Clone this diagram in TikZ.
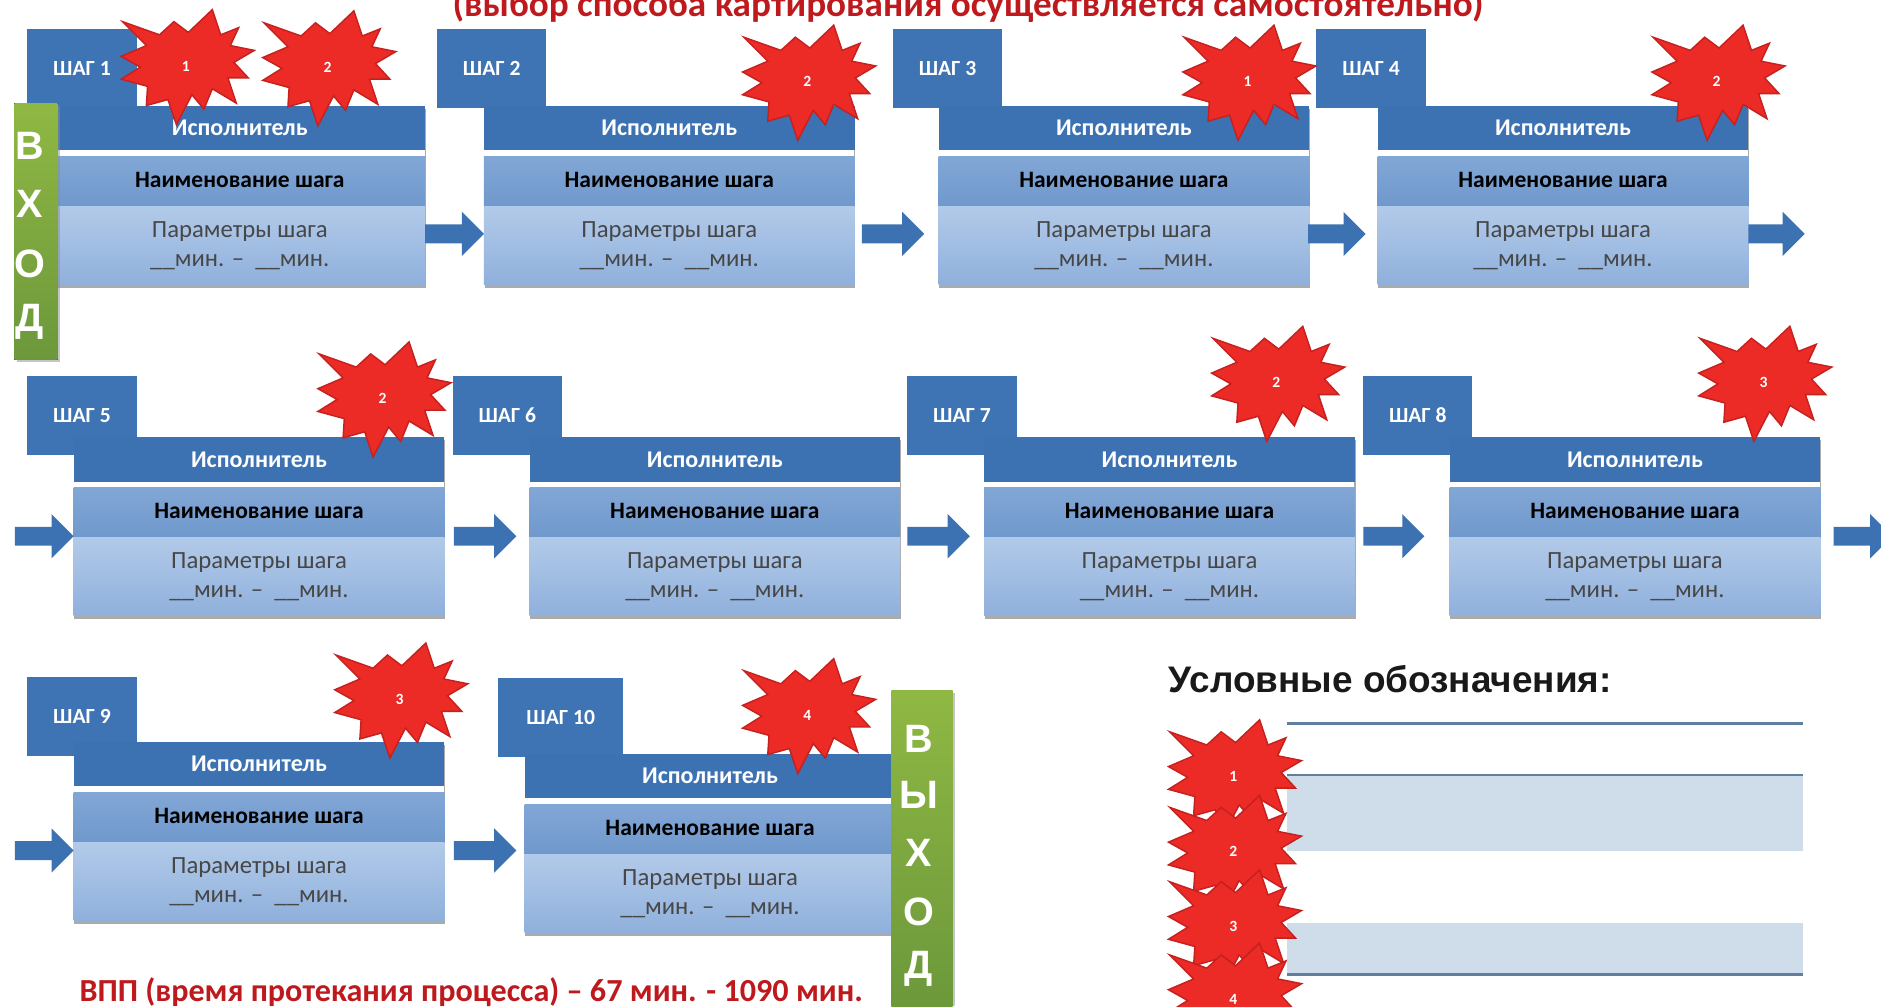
\documentclass[tikz,border=0pt]{standalone}
\usepackage{fontspec}
\setmainfont{Carlito}
\newfontfamily\legendfont{Liberation Sans}
\usetikzlibrary{shapes.arrows}
\definecolor{tabblue}{HTML}{3F74B4}
\definecolor{headblue}{HTML}{3C72B2}
\definecolor{nametop}{HTML}{82A7D6}
\definecolor{namebot}{HTML}{6F98CC}
\definecolor{partop}{HTML}{B2CAE9}
\definecolor{parbot}{HTML}{8FB0DC}
\definecolor{greentop}{HTML}{8FB843}
\definecolor{greenbot}{HTML}{6C983B}
\definecolor{redtext}{HTML}{BE1A1E}
\definecolor{burstred}{HTML}{EC2A26}
\definecolor{burstedge}{HTML}{C4211F}
\definecolor{legendband}{HTML}{CFDDEB}
\definecolor{legendline}{HTML}{5F7F9E}
\tikzset{
  tabbox/.style={fill=tabblue,draw=none,inner sep=0,anchor=north west,minimum height=33pt,text=white,font=\bfseries\fontsize{9}{11}\selectfont},
  bandbox/.style={draw=none,inner sep=0,anchor=north west,minimum width=154.5pt,align=center},
  headband/.style={bandbox,fill=headblue,minimum height=18.5pt,text=white,font=\bfseries\fontsize{10}{12}\selectfont},
  nameband/.style={bandbox,top color=nametop,bottom color=namebot,minimum height=21pt,text=black,font=\bfseries\fontsize{9.8}{12}\selectfont},
  paramband/.style={bandbox,top color=partop,bottom color=parbot,minimum height=32.5pt,text=black!72,font=\fontsize{10.3}{12}\selectfont},
  shadowbox/.style={fill=black!55,opacity=.6,draw=none},
  blockarrow/.style={single arrow,fill=headblue,draw=none,inner sep=0,minimum width=18pt,text height=7.5pt,text depth=0pt,text width=0pt,
    single arrow head extend=5.25pt,single arrow tip angle=90,single arrow head indent=0pt,anchor=tail},
  greenbar/.style={top color=greentop,bottom color=greenbot,draw=none},
  barshadow/.style={fill=black!45,opacity=.5,draw=none},
  barletter/.style={text=white,font=\legendfont\bfseries\fontsize{16.5}{18}\selectfont,inner sep=0},
  burstnum/.style={text=white,font=\bfseries\fontsize{6.5}{7}\selectfont,inner sep=0},
  legendrule/.style={legendline,line width=1.2pt},
  pics/burst/.style={code={
    \path[fill=burstred,draw=burstedge,line width=.6pt,line join=miter]
      (22,-47)--(29,-26)--(44,-32)--(37,-17)--(57,-13)--(40,-3)--(52,10)--(35,10)--(42,31)--(22,19)--(15,36)--(5,24)
      --(-8,49)--(-15,28)--(-33,33)--(-32,17)--(-54,11)--(-38,1)--(-54,-8)--(-33,-17)--(-53,-37)--(-22,-26)--(-10,-37)--(2,-28)--cycle;
  }}
}
% id, tab left, tab top, tab width, body left, body top, number
\newcommand{\stepbox}[7]{%
  \node[tabbox,minimum width={#4*0.5pt}] (tab#1) at (#2,#3) {ШАГ #7};
  \fill[shadowbox] (#5+1,#6+3) rectangle (#5+310,#6+152);
  \fill[white] (#5,#6+36) rectangle (#5+309,#6+43);
  \node[headband] (who#1) at (#5,#6) {Исполнитель};
  \node[nameband] (name#1) at (#5,#6+42) {\raisebox{1.5pt}{Наименование шага}};
  \node[paramband] (par#1) at (#5,#6+84) {Параметры шага\\\_\_мин. –\ \ \_\_мин.};
}
\newcommand{\flowarrow}[4]{%
  \node[blockarrow,minimum height={(#3-#2)*0.5pt}] (#1) at (#2,#4) {};
}
\newcommand{\burstat}[4]{%
  \pic at (#2,#3) {burst};
  \node[burstnum] (#1) at (#2,#3) {#4};
}
\begin{document}
\begin{tikzpicture}[x=0.5pt,y=-0.5pt]
\clip (0,0) rectangle (1568,839);
\fill[white] (0,0) rectangle (1568,839);

\node[text=redtext,font=\bfseries\fontsize{15.5}{17}\selectfont,inner sep=0] (title) at (807,5) {(выбор способа картирования  осуществляется самостоятельно)};

\stepbox{1}{22}{24}{92}{45}{88}{1}
\stepbox{2}{364}{24}{91}{403}{88}{2}
\stepbox{3}{744}{24}{91}{782}{88}{3}
\stepbox{4}{1097}{24}{91}{1148}{88}{4}
\stepbox{5}{22}{313}{92}{61}{364}{5}
\stepbox{6}{377}{313}{91}{441}{364}{6}
\stepbox{7}{756}{313}{91}{820}{364}{7}
\stepbox{8}{1136}{313}{91}{1208}{364}{8}
\stepbox{9}{22}{564}{92}{61}{618}{9}
\stepbox{10}{415}{565}{104}{437}{628}{10}

\flowarrow{a1}{354}{403}{195}
\flowarrow{a2}{718}{770}{195}
\flowarrow{a3}{1090}{1138}{195}
\flowarrow{a4}{1457}{1504}{195}
\flowarrow{a5}{12}{61}{447}
\flowarrow{a6}{378}{430}{447}
\flowarrow{a7}{756}{808}{447}
\flowarrow{a8}{1136}{1187}{447}
\flowarrow{a9}{1528}{1577}{447}
\flowarrow{a10}{12}{61}{709}
\flowarrow{a11}{378}{430}{709}

% ВХОД
\fill[barshadow] (14,88) rectangle (50,302);
\fill[greenbar] (12,86) rectangle (48,300);
\node[barletter] (in1) at (25,122) {В};
\node[barletter] (in2) at (25,170) {Х};
\node[barletter] (in3) at (25,220) {О};
\node[barletter] (in4) at (25,268) {Д};

% ВЫХОД
\fill[barshadow] (745,578) rectangle (796,839);
\fill[greenbar] (743,576) rectangle (794,839);
\node[barletter] (out1) at (766,616) {В};
\node[barletter] (out2) at (766,663) {Ы};
\node[barletter] (out3) at (766,711) {Х};
\node[barletter] (out4) at (766,760) {О};
\node[barletter] (out5) at (766,808) {Д};

\burstat{b1}{155}{55}{1}
\burstat{b2}{273}{56}{2}
\burstat{b3}{673}{68}{2}
\burstat{b4}{1040}{68}{1}
\burstat{b5}{1431}{68}{2}
\burstat{b6}{319}{332}{2}
\burstat{b7}{1064}{319}{2}
\burstat{b8}{1470}{319}{3}
\burstat{b9}{333}{583}{3}
\burstat{b10}{673}{596}{4}

\node[text=redtext,font=\bfseries\fontsize{13.4}{15}\selectfont,inner sep=0,anchor=west] (vpp) at (66,827) {ВПП (время протекания процесса)  – 67 мин. - 1090 мин.};

% legend
\node[font=\legendfont\bfseries\fontsize{15.4}{17}\selectfont,text=black!90,inner sep=0,anchor=west] (legend) at (974,566) {Условные обозначения:};
\fill[legendband] (1073,646) rectangle (1503,709);
\fill[legendband] (1073,769) rectangle (1503,812);
\draw[legendrule] (1073,603) -- (1503,603);
\draw[legendrule] (1073,646) -- (1503,646);
\draw[legendrule] (1073,812) -- (1503,812);
\burstat{k1}{1028}{647}{1}
\burstat{k2}{1028}{710}{2}
\burstat{k3}{1028}{772}{3}
\burstat{k4}{1028}{833}{4}
\end{tikzpicture}
\end{document}
